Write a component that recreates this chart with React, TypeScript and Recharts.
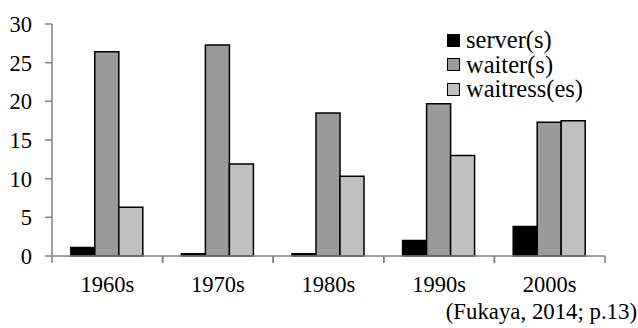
import React from 'react';
import { BarChart, Bar, XAxis, YAxis } from 'recharts';

const decades = ['1960s', '1970s', '1980s', '1990s', '2000s'];
const servers = [1.1, 0.3, 0.3, 2.0, 3.8];
const waiters = [26.4, 27.3, 18.5, 19.7, 17.3];
const waitresses = [6.3, 11.9, 10.3, 13.0, 17.5];
const yTicks = [0, 5, 10, 15, 20, 25, 30];
const sourceNote = '(Fukaya, 2014; p.13)';

const seriesInfo = [
  { key: 'server', name: 'server(s)', color: '#000000' },
  { key: 'waiter', name: 'waiter(s)', color: '#9a9a9a' },
  { key: 'waitress', name: 'waitress(es)', color: '#c0c0c0' },
];

const data = decades.map((d, i) => ({
  decade: d,
  server: servers[i],
  waiter: waiters[i],
  waitress: waitresses[i],
}));

const FONT = "'Liberation Serif', 'Times New Roman', Times, serif";
const AXIS = '#808080';

const XTick = (props: any) => {
  const { x, y, payload } = props;
  const off = payload && payload.offset ? payload.offset : 0;
  return (
    <g>
      <line x1={x - off} x2={x - off} y1={y} y2={y + 7} stroke={AXIS} strokeWidth={1.5} />
      <line x1={x + off} x2={x + off} y1={y} y2={y + 7} stroke={AXIS} strokeWidth={1.5} />
      <text x={x} y={y + 36} textAnchor="middle" fontFamily={FONT} fontSize={22.5} fill="#000">
        {payload.value}
      </text>
    </g>
  );
};

const YTick = (props: any) => {
  const { x, y, payload } = props;
  return (
    <text x={x} y={y + 8} textAnchor="end" fontFamily={FONT} fontSize={22.5} fill="#000">
      {payload.value}
    </text>
  );
};

export default function App() {
  return (
    <div style={{ position: 'absolute', left: 0, top: 0, width: 638, height: 328, background: '#fff', fontFamily: FONT }}>
      <BarChart
        width={638}
        height={328}
        data={data}
        margin={{ top: 24, right: 33, bottom: 0, left: 0 }}
        barCategoryGap="17%"
        barGap={0}
      >
        <XAxis
          dataKey="decade"
          height={72}
          tickSize={0}
          tickMargin={0}
          tickLine={false}
          axisLine={{ stroke: AXIS, strokeWidth: 1.5 }}
          tick={<XTick />}
          interval={0}
        />
        <YAxis
          width={52}
          domain={[0, 30]}
          ticks={yTicks}
          tickSize={7}
          tickMargin={13}
          axisLine={{ stroke: AXIS, strokeWidth: 1.5 }}
          tickLine={{ stroke: AXIS, strokeWidth: 1.5 }}
          tick={<YTick />}
        />
        {seriesInfo.map((s) => (
          <Bar
            key={s.key}
            dataKey={s.key}
            name={s.name}
            fill={s.color}
            stroke="#000"
            strokeWidth={1.5}
            isAnimationActive={false}
          />
        ))}
      </BarChart>
      <div
        style={{
          position: 'absolute',
          left: 447,
          top: 28,
          fontFamily: FONT,
          fontSize: 24.5,
          lineHeight: '24.5px',
          color: '#000',
        }}
      >
        {seriesInfo.map((s) => (
          <div key={s.key} style={{ display: 'flex', alignItems: 'center', height: 24.5 }}>
            <span
              style={{
                display: 'inline-block',
                width: 11,
                height: 11,
                background: s.color,
                border: '1.5px solid #000',
                marginRight: 6,
              }}
            />
            <span>{s.name}</span>
          </div>
        ))}
      </div>
      <div
        style={{
          position: 'absolute',
          right: 1,
          top: 300,
          fontFamily: FONT,
          fontSize: 22.8,
          lineHeight: '24px',
          color: '#000',
          whiteSpace: 'nowrap',
        }}
      >
        {sourceNote}
      </div>
    </div>
  );
}
